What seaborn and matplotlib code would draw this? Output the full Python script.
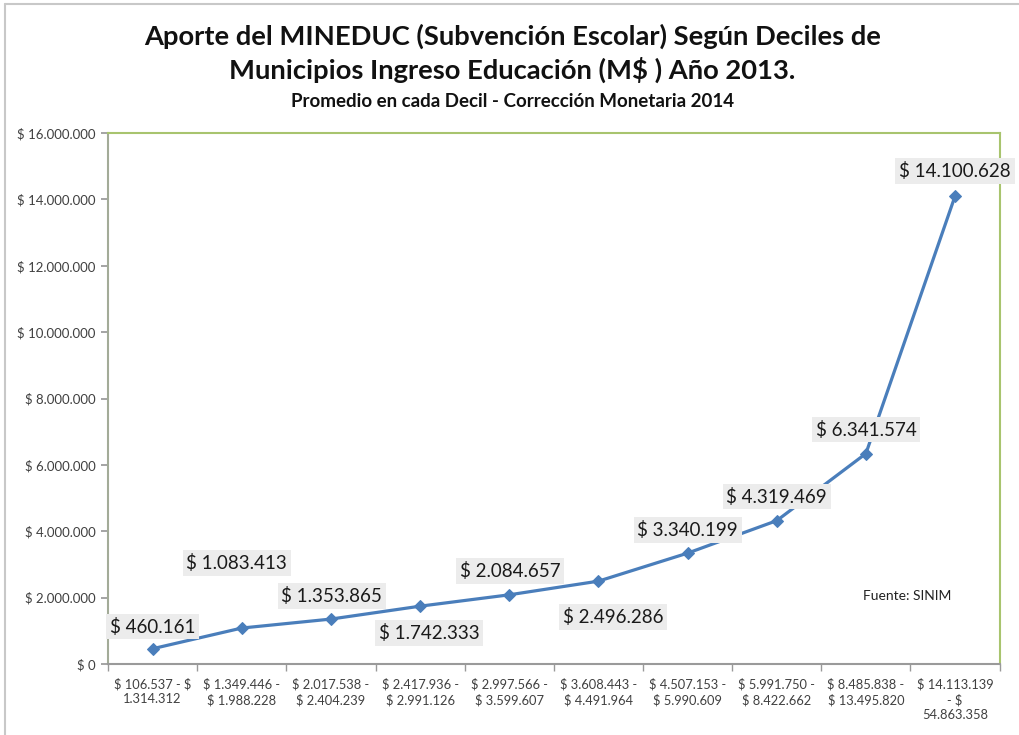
import matplotlib
import matplotlib.pyplot as plt
import matplotlib.lines as mlines
import pandas as pd
import seaborn as sns

matplotlib.use("agg")
sns.set_theme(style="white")
plt.rcParams["font.family"] = ["Lato", "DejaVu Sans"]

# deciles of municipal education income (M$) and average MINEDUC contribution
deciles = [
    "$ 106.537 - $\n1.314.312",
    "$ 1.349.446 -\n$ 1.988.228",
    "$ 2.017.538 -\n$ 2.404.239",
    "$ 2.417.936 -\n$ 2.991.126",
    "$ 2.997.566 -\n$ 3.599.607",
    "$ 3.608.443 -\n$ 4.491.964",
    "$ 4.507.153 -\n$ 5.990.609",
    "$ 5.991.750 -\n$ 8.422.662",
    "$ 8.485.838 -\n$ 13.495.820",
    "$ 14.113.139\n- $\n54.863.358",
]
aporte = [460161, 1083413, 1353865, 1742333, 2084657, 2496286, 3340199, 4319469, 6341574, 14100628]
y_ticks = [0, 2000000, 4000000, 6000000, 8000000, 10000000, 12000000, 14000000, 16000000]

# label offsets in pixels (dx, dy) relative to each point
label_offsets = [(0, 22), (-5, 65), (1, 23), (9, -27), (1, 24), (15, -36), (0, 23), (0, 24), (0, 24), (0, 25)]


def fmt_money(v):
    s = f"{v:,.0f}".replace(",", ".")
    return f"$ {s}"


df = pd.DataFrame({"pos": range(len(deciles)), "aporte": aporte})

fig = plt.figure(figsize=(10.19, 7.35), dpi=100)
ax = fig.add_axes([0.106, 0.0966, 0.875, 0.7224])

sns.lineplot(data=df, x="pos", y="aporte", ax=ax, color="#4a7ebb", linewidth=2.3,
             marker="D", markersize=6, markeredgecolor="#4a7ebb")

for i, v in enumerate(aporte):
    dx, dy = label_offsets[i]
    ax.annotate(fmt_money(v), (i, v), xytext=(dx, dy), textcoords="offset pixels",
                ha="center", va="center", fontsize=13.5, color="#1a1a1a", parse_math=False,
                bbox=dict(boxstyle="square,pad=0.2", fc="#ececec", ec="none"))

ax.set_xlim(-0.5, 9.5)
ax.set_ylim(0, 16000000)
ax.set_yticks(y_ticks)
ax.set_yticklabels([fmt_money(t) for t in y_ticks], fontsize=9.5, color="#404040", parse_math=False)
ax.set_xticks(range(len(deciles)))
ax.set_xticklabels(deciles, fontsize=9.3, color="#404040", linespacing=1.3, parse_math=False)
ax.set_xticks([i + 0.5 for i in range(-1, len(deciles))], minor=True)
ax.tick_params(axis="x", which="major", length=0, pad=10)
ax.tick_params(axis="x", which="minor", length=5, color="#999999", direction="out", bottom=True)
ax.tick_params(axis="y", length=5, color="#999999", direction="out", left=True, pad=4)
ax.set_xlabel("")
ax.set_ylabel("")

for side in ["top", "right"]:
    ax.spines[side].set_color("#a8c46e")
    ax.spines[side].set_linewidth(1.5)
ax.spines["left"].set_color("#a3ab98")
ax.spines["left"].set_linewidth(1.5)
ax.spines["bottom"].set_color("#9a9a9a")
ax.spines["bottom"].set_linewidth(1.5)

ax.text(0.847, 0.12, "Fuente: SINIM", transform=ax.transAxes, fontsize=10, color="#222222")

fig.text(0.503, 0.951, "Aporte del MINEDUC (Subvención Escolar) Según Deciles de",
         ha="center", va="center", fontsize=19.7, fontweight="bold", color="#111111", parse_math=False)
fig.text(0.503, 0.905, "Municipios Ingreso Educación (M$ ) Año 2013.",
         ha="center", va="center", fontsize=19.7, fontweight="bold", color="#111111", parse_math=False)
fig.text(0.503, 0.862, "Promedio en cada Decil - Corrección Monetaria 2014",
         ha="center", va="center", fontsize=13.5, fontweight="bold", color="#111111")

# outer chart frame (top and left edges)
fig.add_artist(mlines.Line2D([0.005, 1.0], [0.994, 0.994], transform=fig.transFigure, color="#c8c8c8", lw=1.5))
fig.add_artist(mlines.Line2D([0.005, 0.005], [0.0, 0.994], transform=fig.transFigure, color="#c8c8c8", lw=1.5))

fig.savefig("out.png", dpi=100)
plt.close(fig)
